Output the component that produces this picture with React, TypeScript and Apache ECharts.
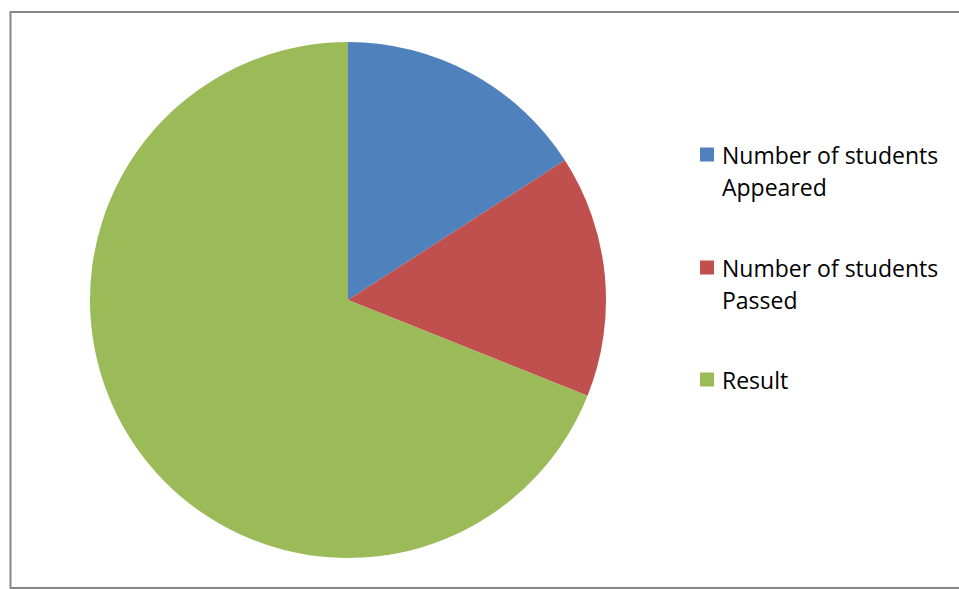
import React, { useEffect, useRef } from "react";
import * as echarts from "echarts";

const categories = ["Number of students\nAppeared", "Number of students\nPassed", "Result"];
const values = [22, 21, 95.45];
const colors = ["#4F81BD", "#C0504D", "#9BBB59"];

export default function App() {
  const ref = useRef<HTMLDivElement>(null);
  useEffect(() => {
    document.body.style.margin = "0";
    const chart = echarts.init(ref.current!, null, { renderer: "svg" });
    const legendCenters = [159, 272, 384];
    const legends = categories.map((name, i) => {
      const lines = name.split("\n").length;
      const h = lines > 1 ? 96 : 32;
      return {
        orient: "vertical",
        left: 700,
        top: legendCenters[i] - h / 2,
        padding: 0,
        itemWidth: 14,
        itemHeight: 14,
        icon: "rect",
        selectedMode: false,
        data: [name],
        formatter: (n: string) => {
          const parts = n.split("\n");
          if (parts.length === 1) return "{t|" + parts[0] + "}";
          return "{s| }\n" + parts.map((p) => "{t|" + p + "}").join("\n");
        },
        textStyle: {
          fontFamily: "Open Sans",
          fontSize: 23,
          color: "#000000",
          rich: {
            s: { fontSize: 23, lineHeight: 32, fontFamily: "Open Sans" },
            t: { fontSize: 23, lineHeight: 32, fontFamily: "Open Sans", color: "#000000", padding: [0, 0, 0, 3] },
          },
        },
      };
    });
    chart.setOption({
      animation: false,
      backgroundColor: "#ffffff",
      graphic: [
        {
          type: "rect",
          shape: { x: 10.5, y: 12, width: 960, height: 576 },
          style: { fill: "none", stroke: "#868686", lineWidth: 2 },
          silent: true,
          z: 0,
        },
      ],
      legend: legends,
      series: [
        {
          type: "pie",
          center: [348, 300],
          radius: 258,
          startAngle: 90,
          clockwise: true,
          label: { show: false },
          labelLine: { show: false },
          silent: true,
          itemStyle: { borderWidth: 0 },
          data: categories.map((c, i) => ({
            name: c,
            value: values[i],
            itemStyle: { color: colors[i] },
          })),
        },
      ],
    });
    return () => chart.dispose();
  }, []);
  return <div ref={ref} style={{ width: 959, height: 589 }} />;
}
